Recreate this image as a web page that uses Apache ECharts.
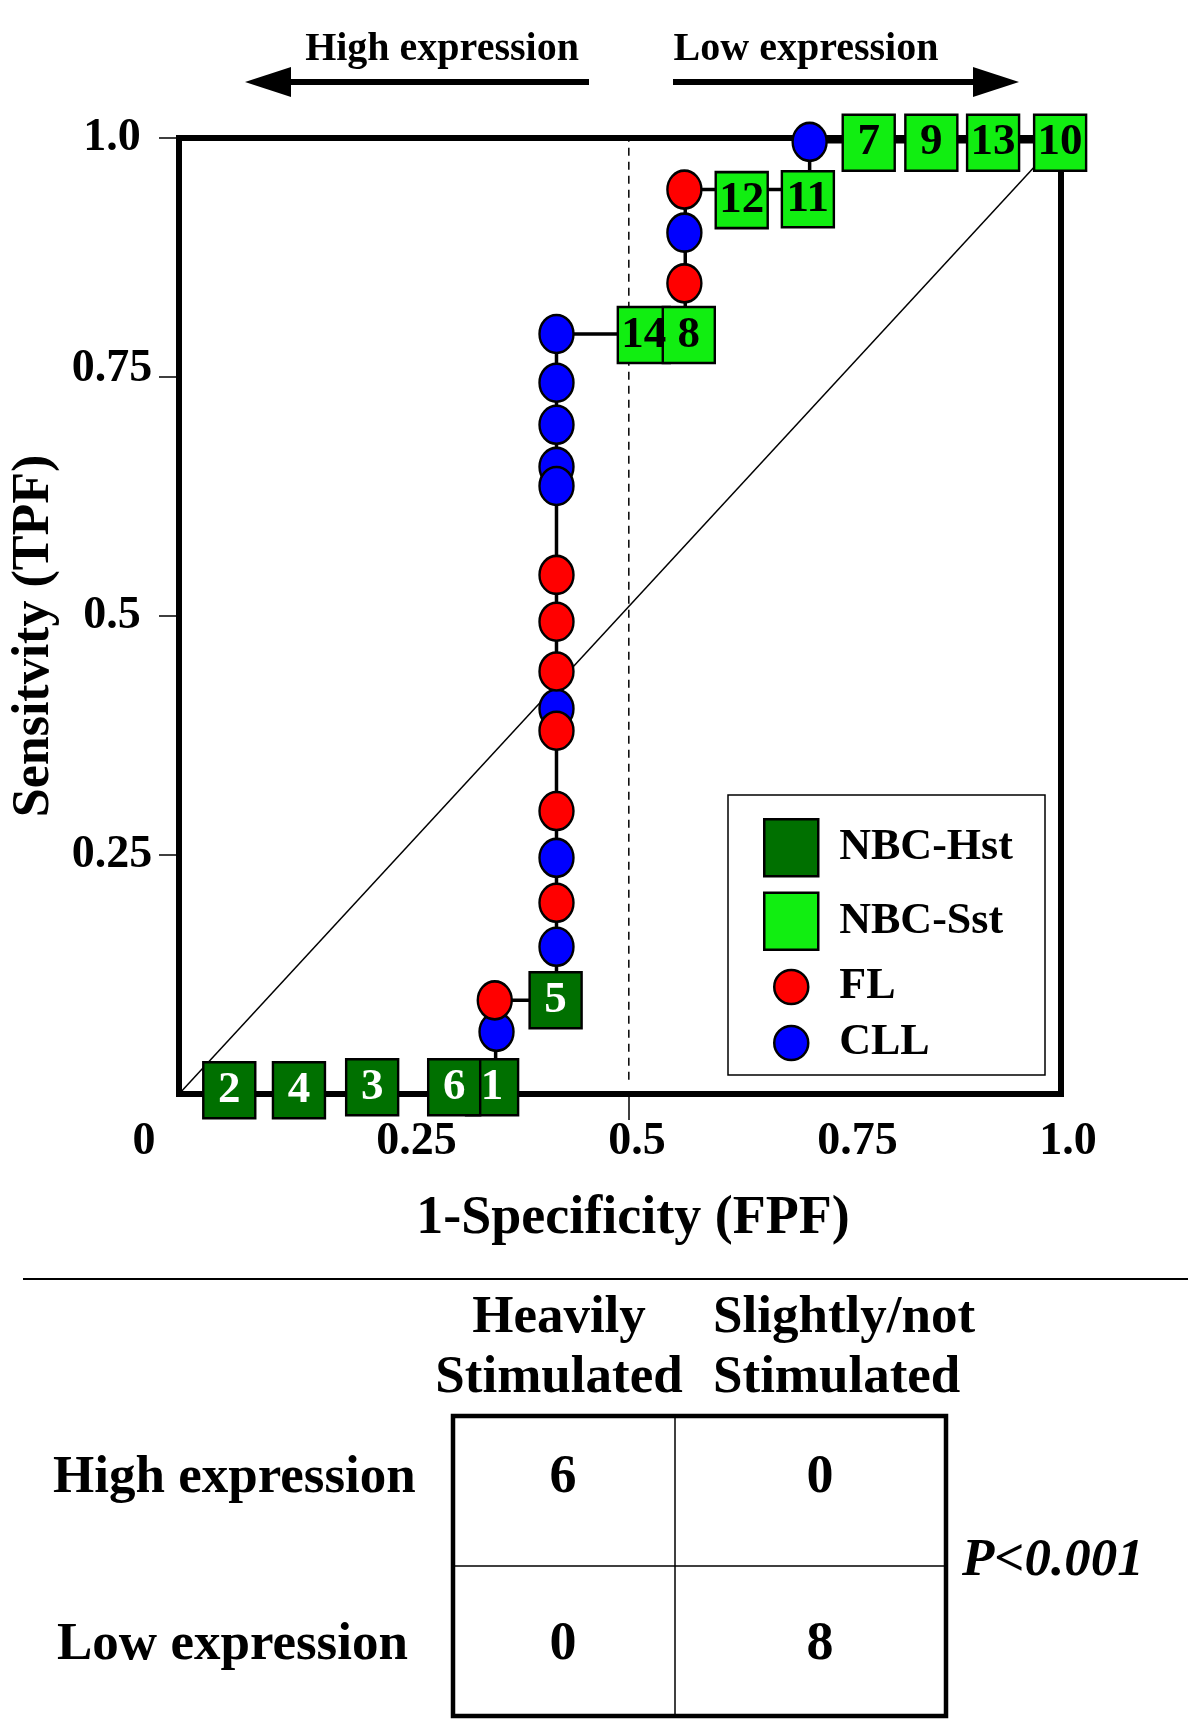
<!DOCTYPE html>
<html><head><meta charset="utf-8">
<script src="https://cdn.jsdelivr.net/npm/echarts@6/dist/echarts.min.js"></script>
<style>html,body{margin:0;padding:0;background:#fff}#c{width:1200px;height:1734px}</style>
</head><body><div id="c"></div>
<script>
// ---- data ----
const hstIds = ['2','4','3','1','6','5'];
const hstFPF = [0.057,0.136,0.219,0.355,0.312,0.427];
const hstTPF = [0.004,0.004,0.007,0.007,0.007,0.098];
const sstIds = ['14','8','12','11','7','9','13','10'];
const sstFPF = [0.527,0.578,0.638,0.713,0.782,0.853,0.923,0.999];
const sstTPF = [0.794,0.794,0.935,0.936,0.995,0.995,0.995,0.995];
const flFPF  = [0.573,0.573,0.428,0.428,0.428,0.428,0.428,0.428,0.358];
const flTPF  = [0.946,0.848,0.543,0.494,0.442,0.380,0.296,0.200,0.098];
const cllFPF = [0.715,0.573,0.428,0.428,0.428,0.428,0.428,0.428,0.428,0.428,0.360];
const cllTPF = [0.996,0.901,0.795,0.744,0.700,0.656,0.636,0.403,0.247,0.154,0.065];
const rocFPF = [0,0.359,0.359,0.428,0.428,0.574,0.574,0.715,0.715,1.0];
const rocTPF = [0,0,0.098,0.098,0.795,0.795,0.946,0.946,0.996,0.996];
const thresholdFPF = 0.51;
const xTickValues = [0,0.25,0.5,0.75,1];
const xTickLabels = ['0','0.25','0.5','0.75','1.0'];
const yTickValues = [0.25,0.5,0.75,1];
const yTickLabels = ['0.25','0.5','0.75','1.0'];
const headerLeft = 'High expression';
const headerRight = 'Low expression';
const tableRows = ['High expression','Low expression'];
const tableCols = [['Heavily','Stimulated'],['Slightly/not','Stimulated']];
const tableCounts = [[6,0],[0,8]];
const pText = 'P<0.001';

// ---- style / layout ----
const F = '"Liberation Serif", "Times New Roman", serif';
const ell = 'path://M50,0A50,50 0 1,1 50,100A50,50 0 1,1 50,0Z';
const xLabelShift = [-35,17,17,17,7];
const yLabelShift = [0,0,8,0];
const xRich = {}, yRich = {};
xLabelShift.forEach((s,i)=>{
  xRich['s'+i] = {fontFamily:F,fontWeight:'bold',fontSize:46,color:'#000',
    padding: s>0 ? [0,0,0,2*s] : [0,-2*s,0,0]};
});
yLabelShift.forEach((s,i)=>{
  yRich['s'+i] = {fontFamily:F,fontWeight:'bold',fontSize:46,color:'#000',
    padding: [0,0,2*s,0]};
});
function txt(text,x,y,size,align,extra){
  return {type:'text',silent:true,style:Object.assign({text:text,x:x,y:y,
    font:'bold '+size+'px '+F,fill:'#000',align:align,textAlign:align,
    verticalAlign:'middle',textVerticalAlign:'middle'},extra||{})};
}
const graphics = [];
// top header arrows
graphics.push(txt(headerLeft,442,50,40,'center'));
graphics.push(txt(headerRight,806,50,40,'center'));
graphics.push({type:'line',silent:true,shape:{x1:289,y1:82,x2:589,y2:82},style:{stroke:'#000',lineWidth:6}});
graphics.push({type:'polygon',silent:true,shape:{points:[[245,82],[291,67],[291,97]]},style:{fill:'#000'}});
graphics.push({type:'line',silent:true,shape:{x1:673,y1:82,x2:975,y2:82},style:{stroke:'#000',lineWidth:6}});
graphics.push({type:'polygon',silent:true,shape:{points:[[1019,82],[973,67],[973,97]]},style:{fill:'#000'}});
// legend box
graphics.push({type:'rect',silent:true,z:1,shape:{x:728,y:795,width:317,height:280},style:{fill:'transparent',stroke:'#000',lineWidth:1.5}});
// divider
graphics.push({type:'line',silent:true,shape:{x1:23,y1:1279,x2:1188,y2:1279},style:{stroke:'#000',lineWidth:2}});
// table
const tX0=453,tX1=675,tX2=946,tY0=1416,tY1=1566,tY2=1716;
graphics.push({type:'rect',silent:true,shape:{x:tX0,y:tY0,width:tX2-tX0,height:tY2-tY0},style:{fill:'transparent',stroke:'#000',lineWidth:4.5}});
graphics.push({type:'line',silent:true,shape:{x1:tX1,y1:tY0,x2:tX1,y2:tY2},style:{stroke:'#000',lineWidth:1.5}});
graphics.push({type:'line',silent:true,shape:{x1:tX0,y1:tY1,x2:tX2,y2:tY1},style:{stroke:'#000',lineWidth:1.5}});
graphics.push(txt(tableCols[0][0],559,1318,53,'center'));
graphics.push(txt(tableCols[0][1],559,1378,53,'center'));
graphics.push(txt(tableCols[1][0],713,1318,53,'left'));
graphics.push(txt(tableCols[1][1],713,1378,53,'left'));
const rowY=[1478,1645], rowX=[53,57], colX=[563,820];
tableRows.forEach((r,i)=>{
  graphics.push(txt(r,rowX[i],rowY[i],53,'left'));
  tableCounts[i].forEach((v,j)=>graphics.push(txt(String(v),colX[j],rowY[i],54,'center')));
});
graphics.push(txt(pText,962,1561,53,'left',{font:'italic bold 53px '+F}));

const zip3=(xs,ys,ids)=>xs.map((x,i)=>ids?[x,ys[i],ids[i]]:[x,ys[i]]);
const sqLabel=(c)=>({show:true,position:'inside',formatter:p=>p.value[2],color:c,fontFamily:F,fontWeight:'bold',fontSize:45});

const chart = echarts.init(document.getElementById('c'),null,{renderer:'canvas',width:1200,height:1734});
chart.setOption({
  backgroundColor:'#fff',
  animation:false,
  grid:{left:179,top:138,width:882,height:956,show:true,borderColor:'#000',borderWidth:6,backgroundColor:'transparent'},
  xAxis:{type:'value',min:0,max:1,
    axisLine:{show:false},splitLine:{show:false},
    axisTick:{show:true,customValues:[thresholdFPF],length:26,lineStyle:{color:'#000',width:1.5}},
    axisLabel:{show:true,customValues:xTickValues,margin:25,
      formatter:(v)=>{const i=xTickValues.indexOf(v);return '{s'+i+'|'+xTickLabels[i]+'}';},rich:xRich},
    name:'1-Specificity (FPF)',nameLocation:'middle',nameGap:98,
    nameTextStyle:{fontFamily:F,fontWeight:'bold',fontSize:54,color:'#000',padding:[0,0,0,26]}
  },
  yAxis:{type:'value',min:0,max:1,
    axisLine:{show:false},splitLine:{show:false},
    axisTick:{show:true,customValues:yTickValues,length:20,lineStyle:{color:'#000',width:1.5}},
    axisLabel:{show:true,customValues:yTickValues,margin:67,align:'center',
      formatter:(v)=>{const i=yTickValues.indexOf(v);return '{s'+i+'|'+yTickLabels[i]+'}';},rich:yRich},
    name:'Sensitvity (TPF)',nameLocation:'middle',nameGap:115,
    nameTextStyle:{fontFamily:F,fontWeight:'bold',fontSize:52,color:'#000',padding:[0,40,0,0]}
  },
  legend:[
    {data:['NBC-Hst','NBC-Sst'],orient:'vertical',left:763,top:818,padding:0,
     itemWidth:54,itemHeight:57,itemGap:14,selectedMode:false,
     itemStyle:{borderColor:'#000',borderWidth:2.5},
     textStyle:{fontFamily:F,fontWeight:'bold',fontSize:44,color:'#000',padding:[0,0,0,16]}},
    {data:['FL','CLL'],orient:'vertical',left:773,top:965,padding:0,
     itemWidth:34,itemHeight:38,itemGap:12,selectedMode:false,
     itemStyle:{borderColor:'#000',borderWidth:2.5},
     textStyle:{fontFamily:F,fontWeight:'bold',fontSize:44,color:'#000',padding:[0,0,0,26]}}
  ],
  graphic:graphics,
  series:[
    {type:'line',name:'chance',data:[[0,0],[1,1]],symbol:'none',silent:true,z:1,
     lineStyle:{color:'#000',width:1.5}},
    {type:'line',name:'threshold',data:[[thresholdFPF,0.015],[thresholdFPF,0.997]],symbol:'none',silent:true,z:1,
     lineStyle:{color:'#000',width:1.5,type:[8,6]}},
    {type:'line',name:'ROC',data:zip3(rocFPF,rocTPF),symbol:'none',silent:true,z:2,
     lineStyle:{color:'#000',width:3.5}},
    {type:'scatter',name:'NBC-Hst',symbol:'rect',symbolSize:[52,56],z:3,silent:true,
     data:zip3(hstFPF,hstTPF,hstIds),encode:{x:0,y:1},
     itemStyle:{color:'#007000',borderColor:'#000',borderWidth:2.5,opacity:1},label:sqLabel('#fff')},
    {type:'scatter',name:'NBC-Sst',symbol:'rect',symbolSize:[52,56],z:3,silent:true,
     data:zip3(sstFPF,sstTPF,sstIds),encode:{x:0,y:1},
     itemStyle:{color:'#11ee11',borderColor:'#000',borderWidth:2.5,opacity:1},label:sqLabel('#000')},
    {type:'scatter',name:'CLL',symbol:ell,symbolSize:[34,38],z:4,silent:true,
     data:zip3(cllFPF,cllTPF),
     itemStyle:{color:'#0000ff',borderColor:'#000',borderWidth:2.5,opacity:1}},
    {type:'scatter',name:'FL',symbol:ell,symbolSize:[34,38],z:5,silent:true,
     data:zip3(flFPF,flTPF),
     itemStyle:{color:'#ff0000',borderColor:'#000',borderWidth:2.5,opacity:1}}
  ]
});
</script></body></html>
